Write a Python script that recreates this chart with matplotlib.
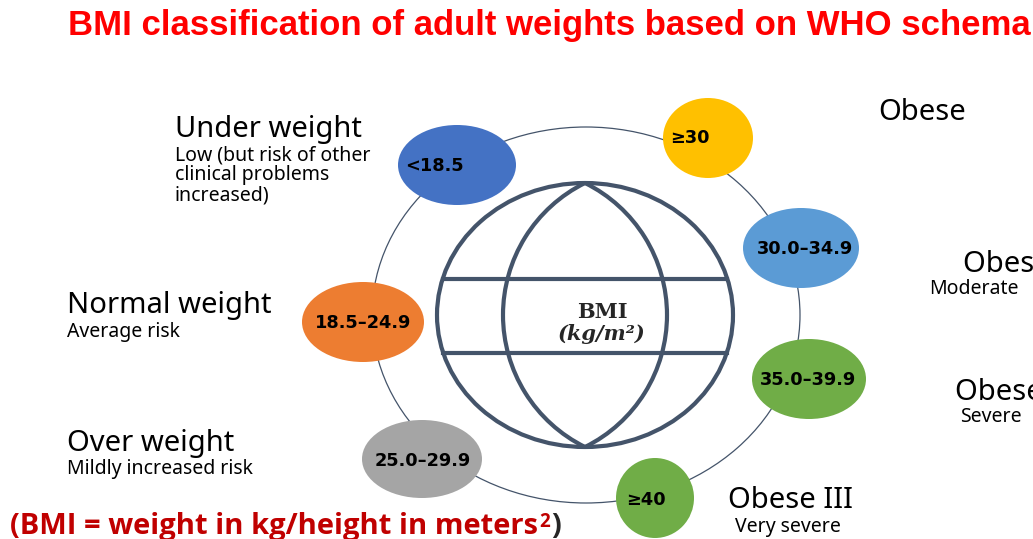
import numpy as np
import matplotlib.pyplot as plt
from matplotlib.patches import Ellipse, Arc

# categories and values
ranges = ["<18.5", "18.5–24.9", "25.0–29.9", "≥30", "30.0–34.9", "35.0–39.9", "≥40"]
classes = ["Under weight", "Normal weight", "Over weight", "Obese", "Obese I", "Obese II", "Obese III"]
risks = ["Low (but risk of other\nclinical problems\nincreased)", "Average risk", "Mildly increased risk",
         "", "Moderate", "Severe", "Very severe"]
colors = ["#4472C4", "#ED7D31", "#A5A5A5", "#FFC000", "#5B9BD5", "#70AD47", "#70AD47"]

# layout (pixel coords)
bubble_xy = [(457, 165), (363, 322), (422, 459), (708, 138), (801, 248), (809, 379), (655, 498)]
bubble_wh = [(118, 80), (122, 80), (120, 78), (90, 80), (116, 80), (114, 80), (78, 80)]
range_xy = [(434, 166), (363, 323), (423, 461), (690, 138), (805, 249), (808, 380), (646, 500)]
class_xy = [(175, 129), (67, 305), (67, 443), (878, 112), (963, 264), (955, 392), (728, 501)]
risk_xy = [(175, 145), (67, 322), (67, 459), (0, 0), (929, 279), (960, 407), (735, 517)]

slate = "#44546A"

fig = plt.figure(figsize=(10.33, 5.39), dpi=100)
ax = fig.add_axes([0, 0, 1, 1])
ax.set_xlim(0, 1033)
ax.set_ylim(539, 0)
ax.axis("off")

# ring
ax.add_patch(Ellipse((586, 315), 428, 376, fill=False, ec=slate, lw=0.9, zorder=1))

# globe
gc, grx, gry = (585, 315), 148, 132
ax.add_patch(Ellipse(gc, 2 * grx, 2 * gry, fill=False, ec=slate, lw=3.0, zorder=2))
for yy in [279, 353]:
    dx = grx * np.sqrt(1 - ((yy - gc[1]) / gry) ** 2)
    ax.plot([gc[0] - dx, gc[0] + dx], [yy, yy], color=slate, lw=3.0, zorder=2)
h, s = gry, 82
R = (h ** 2 + s ** 2) / (2 * s)
th = np.degrees(np.arcsin(h / R))
ax.add_patch(Arc((gc[0] - s + R, gc[1]), 2 * R, 2 * R, theta1=180 - th, theta2=180 + th, ec=slate, lw=3.0, zorder=2))
ax.add_patch(Arc((gc[0] + s - R, gc[1]), 2 * R, 2 * R, theta1=-th, theta2=th, ec=slate, lw=3.0, zorder=2))
ax.text(602, 312, "BMI", family="DejaVu Serif", weight="bold", fontsize=15, color="#262626", ha="center", va="center")
ax.text(602, 334, "(kg/m²)", family="DejaVu Serif", style="italic", weight="bold", fontsize=15,
        color="#262626", ha="center", va="center")

# bubbles
for i in range(len(ranges)):
    ax.add_patch(Ellipse(bubble_xy[i], bubble_wh[i][0], bubble_wh[i][1], fc=colors[i], ec="none", zorder=3))
    ax.text(range_xy[i][0], range_xy[i][1], ranges[i], fontsize=12.8, weight="bold", family="DejaVu Sans",
            ha="center", va="center", color="black", zorder=4)

# class labels
for i in range(len(classes)):
    ax.text(class_xy[i][0], class_xy[i][1], classes[i], fontsize=21, family="Noto Sans",
            ha="left", va="center", color="black")
    if risks[i]:
        ax.text(risk_xy[i][0], risk_xy[i][1], risks[i], fontsize=14, family="Noto Sans",
                ha="left", va="top", color="black", linespacing=1.0)

# title and formula
ax.text(68, 25, "BMI classification of adult weights based on WHO schema", fontsize=25, weight="bold",
        family="Liberation Sans", color="#FF0000", ha="left", va="center")
dark_red = "#C00000"
t1 = ax.text(10, 534, "(BMI = weight in kg/height in meters", fontsize=21, weight="bold",
             family="Open Sans", color=dark_red, ha="left", va="baseline")
sup = ax.annotate("2", xy=(1, 1), xycoords=t1, xytext=(1, 0), textcoords="offset points", fontsize=13.5,
                  weight="bold", family="Open Sans", color=dark_red, ha="left", va="top")
ax.annotate(")", xy=(1, 0), xycoords=(sup, t1), xytext=(1, 0), textcoords="offset points", fontsize=21,
            weight="bold", family="Open Sans", color="#262626", ha="left", va="bottom")

fig.savefig("out.png", dpi=100)
